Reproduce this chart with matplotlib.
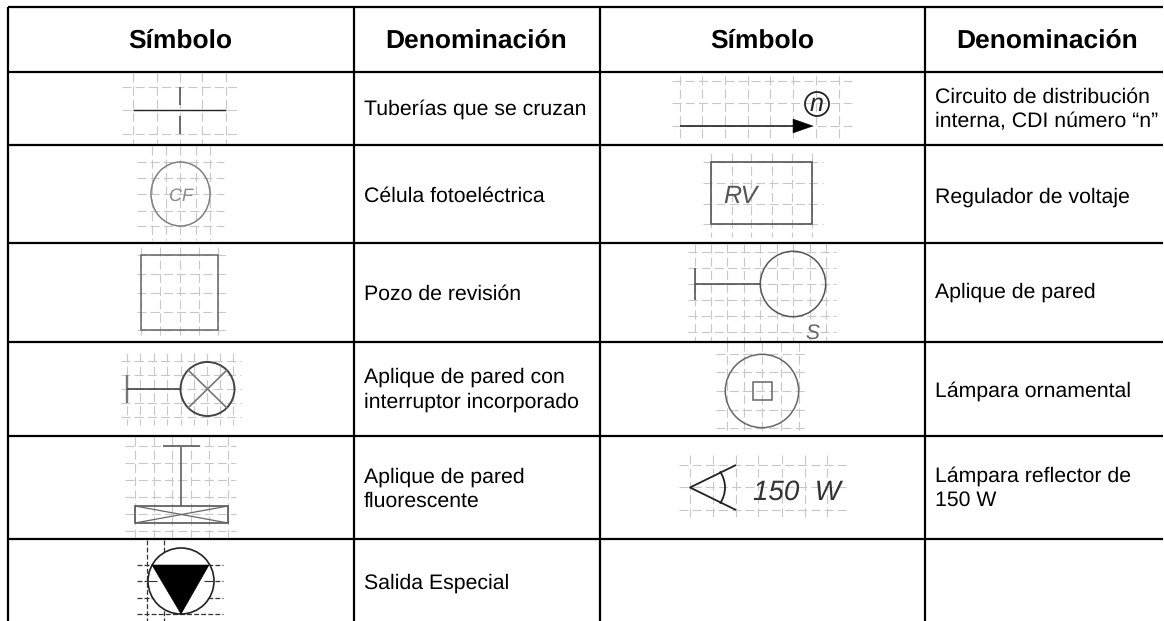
import matplotlib
matplotlib.use("Agg")
import matplotlib.pyplot as plt
from matplotlib.patches import Circle, Ellipse, Polygon, Rectangle, Arc

plt.rcParams["lines.scale_dashes"] = False
plt.rcParams["font.family"] = ["Liberation Sans", "DejaVu Sans"]
plt.rcParams["text.hinting"] = "no_hinting"
plt.rcParams["text.hinting_factor"] = 8

# ---- table ----
COL_LINES = [8, 354, 600, 925]
ROW_LINES = [7, 72, 145, 243, 342, 436, 539]
HEADERS = ["Símbolo", "Denominación", "Símbolo", "Denominación"]
HEADER_X = [180, 476.5, 762, 1047]

LEFT_LABELS = [
    (["Tuberías que se cruzan"], [115]),
    (["Célula fotoeléctrica"], [202]),
    (["Pozo de revisión"], [300]),
    (["Aplique de pared con", "interruptor incorporado"], [383, 408]),
    (["Aplique de pared", "fluorescente"], [483, 507]),
    (["Salida Especial"], [589]),
]
RIGHT_LABELS = [
    (["Circuito de distribución", "interna, CDI número “n”"], [103, 127]),
    (["Regulador de voltaje"], [203]),
    (["Aplique de pared"], [298]),
    (["Lámpara ornamental"], [397]),
    (["Lámpara reflector de", "150 W"], [482, 506]),
]

# ---- symbol construction grids: xs, ys, x-range, y-range ----
G_CROSS = ([133, 157, 179.5, 202, 226], [87, 110, 134], (122, 240), (73, 144))
G_CF = ([152, 166, 180, 196, 210], [162, 178, 194, 211, 226], (137, 224), (146, 240))
G_POZO = ([141, 160, 180, 199, 218], [255, 274, 293, 312, 330], (137, 226), (247, 339))
G_INT = ([127, 140, 154, 167, 181, 194, 207, 220, 233], [361, 375, 389, 403, 417], (121, 241), (353, 425))
G_FLUO = ([135, 154, 172, 191, 209, 228], [446, 463, 480, 497, 514, 531], (125, 236), (437, 537))
G_SALIDA = ([147, 164], [565, 581, 598, 614], (137, 223), (540, 621))
G_CDI = ([680, 702, 725, 748, 770, 793, 816, 839], [81, 103, 126], (672, 852), (76, 141))
G_RV = ([711, 732, 751, 772, 792, 812], [162, 183, 204, 224], (703, 823), (153, 237))
G_APL = ([695, 711, 727, 744, 760, 777, 793, 810, 826], [252, 268, 284, 300, 316, 332], (688, 836), (244, 341))
G_ORN = ([727, 744, 762, 781, 799], [354, 372, 391, 410, 428], (716, 808), (342, 433))
G_REF = ([690, 713, 736, 758, 782, 805, 827], [465, 487, 510], (679, 846), (455, 520))
LIGHT_GRIDS = [G_CROSS, G_CF, G_POZO, G_INT, G_FLUO, G_CDI, G_RV, G_APL, G_ORN, G_REF]

fig = plt.figure(figsize=(11.64, 6.21), dpi=100)
ax = fig.add_axes([0, 0, 1, 1])
ax.set_xlim(0, 1164)
ax.set_ylim(621, 0)
ax.axis("off")


def grid(g, color="#c8c8c8", dash=(0, (6.5, 3)), lw=0.8, z=1):
    xs, ys, xr, yr = g
    for x in xs:
        ax.plot([x, x], yr, color=color, lw=lw, ls=dash, zorder=z)
    for y in ys:
        ax.plot(xr, [y, y], color=color, lw=lw, ls=dash, zorder=z)


def seg(x, y, color="#333333", lw=1.0, z=3):
    ax.plot(x, y, color=color, lw=lw, zorder=z, solid_capstyle="butt")


for g in LIGHT_GRIDS:
    grid(g)

# 1 crossing pipes
seg([133, 226], [110, 110], "#222222")
seg([179.5, 179.5], [87, 105], "#555555", 1.2)
seg([179.5, 179.5], [116, 134], "#555555", 1.2)

# 2 photo cell
ax.add_patch(Ellipse((180.5, 194), 59, 64, fc="none", ec="#808080", lw=1.1, zorder=3))
ax.text(181, 201, "CF", style="italic", fontsize=13, color="#8a8a8a", ha="center", va="baseline", zorder=4)

# 3 inspection pit
ax.add_patch(Rectangle((141, 255), 77, 75, fc="none", ec="#666666", lw=1.1, zorder=3))

# 4 wall light with switch
seg([127, 127], [375, 403], "#777777", 1.7)
seg([127, 181], [389, 389], "#333333", 1.1)
ax.add_patch(Circle((207.5, 389), 27, fc="none", ec="#444444", lw=1.4, zorder=3))
seg([188, 227], [370, 408], "#777777", 1.2)
seg([188, 227], [408, 370], "#777777", 1.2)

# 5 fluorescent wall light
seg([163, 200], [446, 446], "#666666", 1.3)
seg([181, 181], [446, 506], "#777777", 1.4)
ax.add_patch(Rectangle((135, 506), 93, 17, fc="none", ec="#555555", lw=1.2, zorder=3))
seg([135, 228], [506, 523], "#666666", 0.9)
seg([135, 228], [523, 506], "#666666", 0.9)

# 6 special outlet
grid(G_SALIDA, color="#333333", dash=(0, (3.5, 1.6)), lw=0.9)
ax.add_patch(Circle((181, 581), 33, fc="white", ec="#222222", lw=1.2, zorder=3))
seg([148, 157], [581, 581], "#333333", 0.8, 4)
seg([204, 214], [581, 581], "#333333", 0.8, 4)
ax.add_patch(Polygon([(152, 565), (209, 565), (181, 614)], closed=True, fc="black", ec="black", lw=0.4, zorder=5))

# 7 CDI arrow
seg([680, 795], [126, 126], "#222222", 1.2)
ax.add_patch(Polygon([(793, 119), (813, 126), (793, 133)], closed=True, fc="black", ec="black", lw=0.3, zorder=4))
ax.add_patch(Circle((817, 104), 12, fc="none", ec="#222222", lw=1.3, zorder=3))
ax.text(816.5, 111, "n", style="italic", fontsize=18, color="#222222", ha="center", va="baseline", zorder=4)

# 8 voltage regulator
ax.add_patch(Rectangle((711, 162), 101, 62, fc="none", ec="#555555", lw=1.2, zorder=3))
ax.text(723, 203, "RV", style="italic", fontsize=18, color="#555555", ha="left", va="baseline", zorder=4)

# 9 wall light
seg([695, 695], [268, 300], "#555555", 1.2)
seg([695, 760], [284, 284], "#444444", 1.1)
ax.add_patch(Circle((793, 284), 32.7, fc="none", ec="#555555", lw=1.1, zorder=3))
ax.text(812, 339, "S", style="italic", fontsize=15, color="#666666", ha="center", va="baseline", zorder=4)

# 10 ornamental lamp
ax.add_patch(Circle((762, 391), 36.7, fc="none", ec="#666666", lw=1.1, zorder=3))
ax.add_patch(Rectangle((753, 382), 19, 18, fc="none", ec="#666666", lw=1.1, zorder=3))

# 11 reflector
seg([736, 690, 736], [465, 487.5, 510], "#222222", 1.3)
ax.add_patch(Arc((697, 487.5), 56, 56, theta1=-35, theta2=35, ec="#222222", lw=1.3, zorder=3))
ax.text(753, 500, "150  W", style="italic", fontsize=20, color="#333333", ha="left", va="baseline", zorder=4)

# table rules and text on top
for x in COL_LINES:
    ax.plot([x, x], [ROW_LINES[0], 621], color="black", lw=1.6, zorder=6, solid_capstyle="butt")
for y in ROW_LINES:
    ax.plot([COL_LINES[0], 1163], [y, y], color="black", lw=1.6, zorder=6, solid_capstyle="butt")

for h, x in zip(HEADERS, HEADER_X):
    ax.text(x, 48, h, fontsize=19.0, fontweight="bold", ha="center", va="baseline", color="black", zorder=7)
for labels, x in ((LEFT_LABELS, 364), (RIGHT_LABELS, 935)):
    for lines, ys in labels:
        for t, y in zip(lines, ys):
            ax.text(x, y, t, fontsize=15.3, ha="left", va="baseline", color="black", zorder=7)

fig.savefig("out.png", dpi=100, facecolor="white")
